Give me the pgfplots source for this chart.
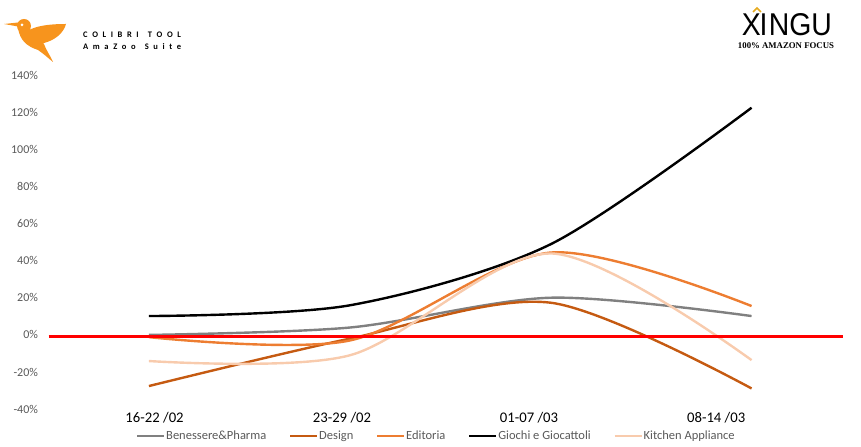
\documentclass[border=0pt]{standalone}
\usepackage{fontspec}
\setmainfont{Carlito}
\newfontfamily\libsans{Liberation Sans}
\newfontfamily\libserif{Liberation Serif}
\usepackage{pgfplots}
\pgfplotsset{compat=1.18}
\definecolor{cgray}{RGB}{128,128,128}
\definecolor{cdesign}{RGB}{197,90,17}
\definecolor{cedit}{RGB}{237,125,49}
\definecolor{ckitchen}{RGB}{248,203,173}
\definecolor{ctext}{RGB}{89,89,89}
\definecolor{cbird}{RGB}{247,148,29}
\definecolor{cgold}{RGB}{230,170,30}
\begin{document}
\begin{tikzpicture}
\path[use as bounding box] (0,0) rectangle (861bp,447bp);
% logos
\begin{scope}[x=1bp,y=-1bp,shift={(0,447bp)}]
  \fill[cbird] (4,24) -- (18,22.5) -- (18,26.5) -- cycle;
  \fill[cbird] (24,26) circle (7);
  \fill[cbird] (18,28) .. controls (20,40) and (26,46) .. (38,50)
     .. controls (44,54) and (48,58) .. (53,62)
     .. controls (50,55) and (46,50) .. (44,44) -- (34,32) -- cycle;
  \fill[cbird] (27,31) .. controls (36,26) and (48,24) .. (66,24)
     .. controls (64,32) and (56,40) .. (44,43)
     .. controls (38,44) and (32,40) .. (27,31) -- cycle;
  \fill[white] (22,25) circle (1.5);
  \def\ls{\hspace{4.6bp}}
  \node[anchor=west,inner sep=0,font=\fontsize{8.5bp}{9bp}\selectfont\bfseries] at (83,35)
    {C\ls O\ls L\ls I\ls B\ls R\ls I\ls\ls T\ls O\ls O\ls L};
  \node[anchor=west,inner sep=0,font=\fontsize{8.5bp}{9bp}\selectfont\bfseries] at (83,47)
    {A\ls m\ls a\ls Z\ls o\ls o\ls\ls S\ls u\ls i\ls t\ls e};
  \node[anchor=center,inner sep=0] at (787,24.5)
    {\resizebox{90bp}{22bp}{\libsans X\kern-0.5pt I\kern0.5pt NGU}};
  \draw[cgold,line width=1.5] (753,12) -- (757,8) -- (761,12);
  \node[anchor=center,inner sep=0] at (786,45.5)
    {\resizebox{96bp}{!}{\libserif\bfseries 100\% AMAZON FOCUS}};
\end{scope}
\begin{axis}[
  at={(48.5bp,38bp)}, anchor=south west, scale only axis,
  width=803.5bp, height=333.3bp,
  xmin=-0.5, xmax=3.5, ymin=-40, ymax=140,
  axis line style={draw=none}, major tick length=0pt,
  ytick={-40,-20,...,140},
  /pgf/number format/assume math mode=true,
  yticklabel={\pgfmathprintnumber{\tick}\%},
  yticklabel style={font=\fontsize{12bp}{14bp}\selectfont, text=ctext, xshift=-7bp},
  xtick={0.028,0.961,1.892,2.824},
  xticklabels={16-22 /02, 23-29 /02, 01-07 /03, 08-14 /03},
  xticklabel style={font=\fontsize{14.7bp}{16bp}\selectfont, text=black},
  legend columns=5,
  legend style={draw=none, fill=none, at={(0.482,-0.081)}, anchor=center,
     font=\fontsize{12.5bp}{14bp}\selectfont, text=ctext,
     /tikz/every even column/.append style={column sep=21.5bp},
     nodes={inner sep=1bp}},
  legend image code/.code={\draw[#1] (0bp,0bp) -- (27bp,0bp);},
  every axis plot/.append style={line width=2.4bp, smooth},
]
\addplot[cgray] coordinates {(0,0) (1,4) (2,20.1) (3,10.2)};
\addlegendentry{Benessere\&Pharma}
\addplot[cdesign] coordinates {(0,-27.6) (1,-2) (2,17.4) (3,-28.9)};
\addlegendentry{Design}
\addplot[cedit] coordinates {(0,-1.2) (1,-3) (2,44.5) (3,15.6)};
\addlegendentry{Editoria}
\addplot[black] coordinates {(0,10.2) (1,16) (2,49) (3,122.7)};
\addlegendentry{Giochi e Giocattoli}
\addplot[ckitchen] coordinates {(0,-14.1) (1,-11) (2,44) (3,-13.6)};
\addlegendentry{Kitchen Appliance}
\addplot[red, line width=3.6bp, sharp plot, forget plot] coordinates {(-0.5,-0.9) (3.455,-0.9)};
\end{axis}
\end{tikzpicture}
\end{document}
